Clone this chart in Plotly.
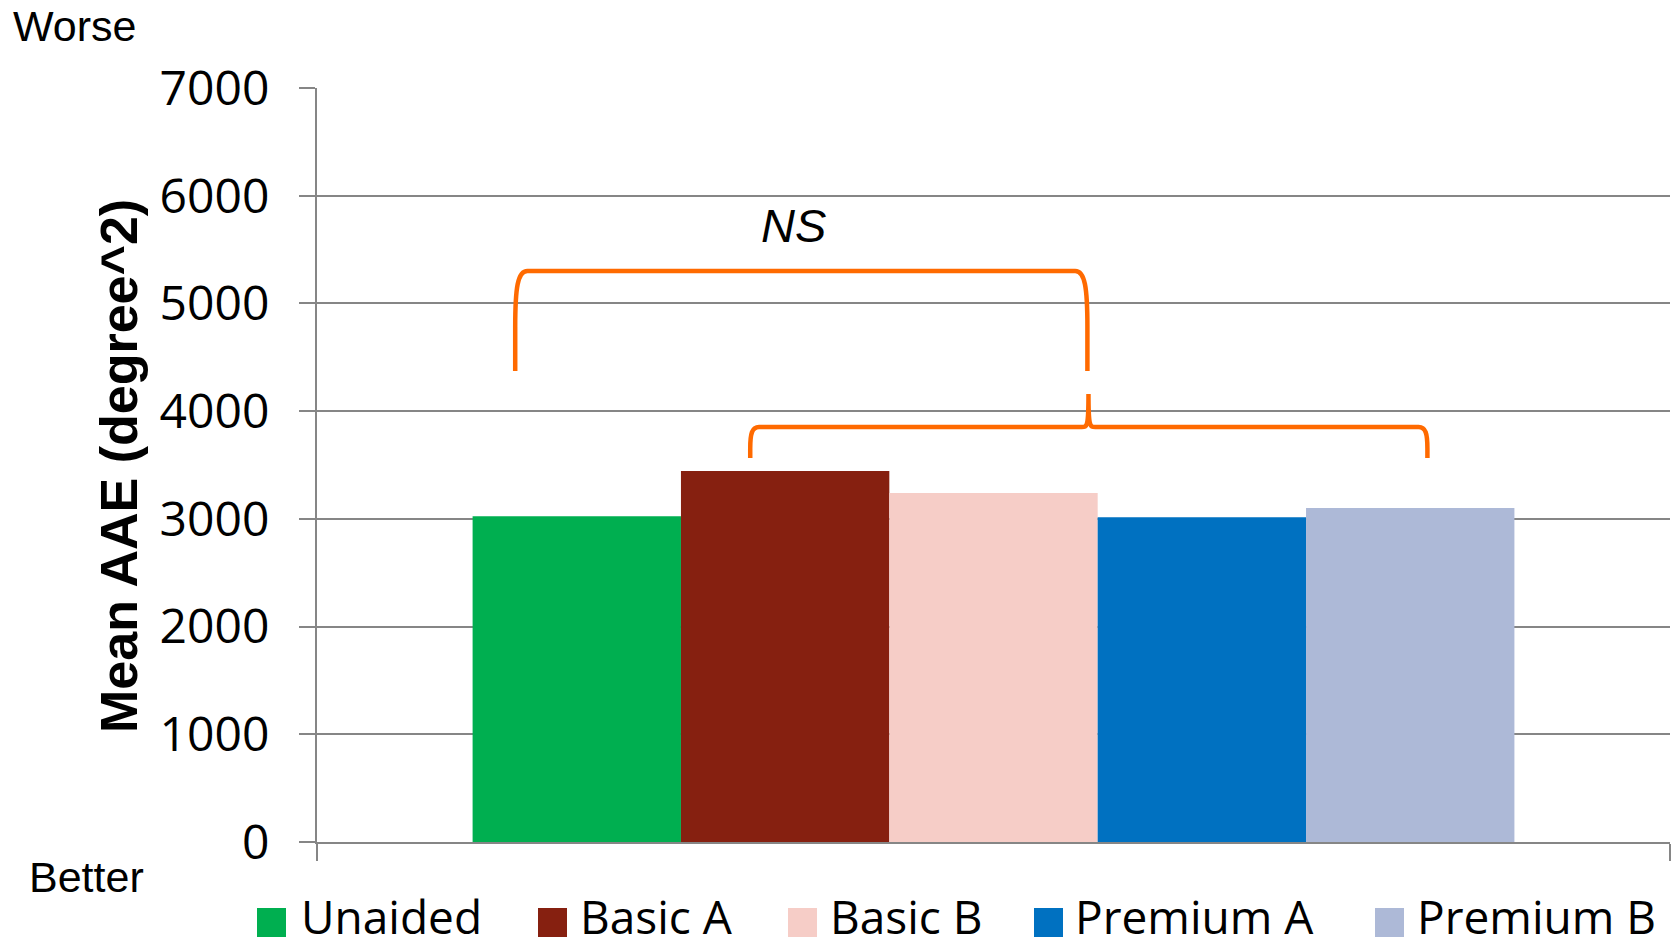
import plotly.graph_objects as go

# Series data: mean AAE per condition
series_names = ["Unaided", "Basic A", "Basic B", "Premium A", "Premium B"]
series_values = [3025, 3445, 3240, 3015, 3100]
series_colors = ["#00AF50", "#862010", "#F6CDC7", "#0071C1", "#ADB9D7"]
y_ticks = [0, 1000, 2000, 3000, 4000, 5000, 6000, 7000]

W, H = 1678, 950
M_L, M_R, M_T, M_B = 317, 8, 88, 108
PW = W - M_L - M_R
PH = H - M_T - M_B
GRID = "#868686"
ORANGE = "#FF6A00"


def px_x(px):
    """Pixel column -> paper x."""
    return (px - M_L) / PW


def px_y(py):
    """Pixel row -> paper y."""
    return (H - M_B - py) / PH


fig = go.Figure()
for name, val, col in zip(series_names, series_values, series_colors):
    fig.add_trace(go.Bar(
        x=[0], y=[val], name=name,
        marker=dict(color=col, line=dict(width=0)),
        showlegend=False,
    ))


def square_bracket(x0, x1, yh, yb, rx, ry):
    return (f"M {x0},{yb} L {x0},{yh - ry} C {x0},{yh - ry * 0.3} {x0 + rx * 0.2},{yh} {x0 + rx},{yh} "
            f"L {x1 - rx},{yh} C {x1 - rx * 0.2},{yh} {x1},{yh - ry * 0.3} {x1},{yh - ry} L {x1},{yb}")


def peaked_bracket(x0, x1, xm, yh, yb, ypk, rx, ry, rm):
    return (f"M {x0},{yb} L {x0},{yh - ry} C {x0},{yh - ry * 0.3} {x0 + rx * 0.2},{yh} {x0 + rx},{yh} "
            f"L {xm - rm},{yh} C {xm - rm * 0.2},{yh} {xm},{yh} {xm},{ypk} "
            f"C {xm},{yh} {xm + rm * 0.2},{yh} {xm + rm},{yh} "
            f"L {x1 - rx},{yh} C {x1 - rx * 0.2},{yh} {x1},{yh - ry * 0.3} {x1},{yh - ry} L {x1},{yb}")


shapes = [
    dict(type="path", xref="x", yref="y",
         path=square_bracket(-0.3535, 0.0694, 5301, 4373, 0.0090, 520),
         line=dict(color=ORANGE, width=4.5)),
    dict(type="path", xref="x", yref="y",
         path=peaked_bracket(-0.1798, 0.3207, 0.0702, 3853, 3565, 4159,
                             0.0065, 200, 0.0050),
         line=dict(color=ORANGE, width=4.5)),
]

annotations = [
    dict(text="<i>NS</i>", xref="x", yref="y", x=-0.148, y=5728,
         showarrow=False, font=dict(family="Liberation Sans", size=47, color="black")),
    dict(text="<b>Mean AAE (degree^2)</b>", xref="paper", yref="paper",
         x=px_x(119), y=px_y(466), xanchor="center", yanchor="middle", textangle=-90,
         showarrow=False, font=dict(family="Liberation Sans", size=52, color="black")),
    dict(text="Worse", xref="paper", yref="paper", x=px_x(11), y=px_y(26),
         xanchor="left", yanchor="middle", showarrow=False,
         font=dict(family="Liberation Sans", size=43, color="black")),
    dict(text="Better", xref="paper", yref="paper", x=px_x(27), y=px_y(877),
         xanchor="left", yanchor="middle", showarrow=False,
         font=dict(family="Liberation Sans", size=43, color="black")),
]

# Legend row drawn beneath the plot
legend_square_px = [257, 538, 788, 1034, 1375]
legend_text_px = [300, 579, 829, 1074, 1416]
for name, col, sx, tx in zip(series_names, series_colors, legend_square_px, legend_text_px):
    shapes.append(dict(type="rect", xref="paper", yref="paper",
                       x0=px_x(sx), x1=px_x(sx + 29), y0=px_y(937), y1=px_y(908),
                       fillcolor=col, line=dict(width=0)))
    annotations.append(dict(text=name, xref="paper", yref="paper",
                            x=px_x(tx), y=px_y(916), xanchor="left", yanchor="middle",
                            showarrow=False, borderpad=0,
                            font=dict(family="Open Sans", size=46, color="black")))

fig.update_layout(
    width=W, height=H,
    margin=dict(l=M_L, r=M_R, t=M_T, b=M_B),
    paper_bgcolor="white", plot_bgcolor="white",
    barmode="group", bargap=0.23, bargroupgap=0,
    shapes=shapes, annotations=annotations,
    xaxis=dict(range=[-0.5, 0.5], showgrid=False, zeroline=False,
               tickvals=[-0.5, 0.5], ticktext=["", ""], ticks="outside",
               ticklen=17, tickwidth=2, tickcolor=GRID,
               showline=True, linecolor=GRID, linewidth=2),
    yaxis=dict(range=[0, 7000], tickvals=y_ticks, ticks="outside",
               ticklen=16, tickwidth=2, tickcolor=GRID,
               showgrid=True, gridcolor=GRID, gridwidth=2,
               zeroline=False, showline=True, linecolor=GRID, linewidth=2,
               ticklabelstandoff=20,
               tickfont=dict(family="Open Sans", size=48, color="black")),
)

fig.write_html("out.html")
